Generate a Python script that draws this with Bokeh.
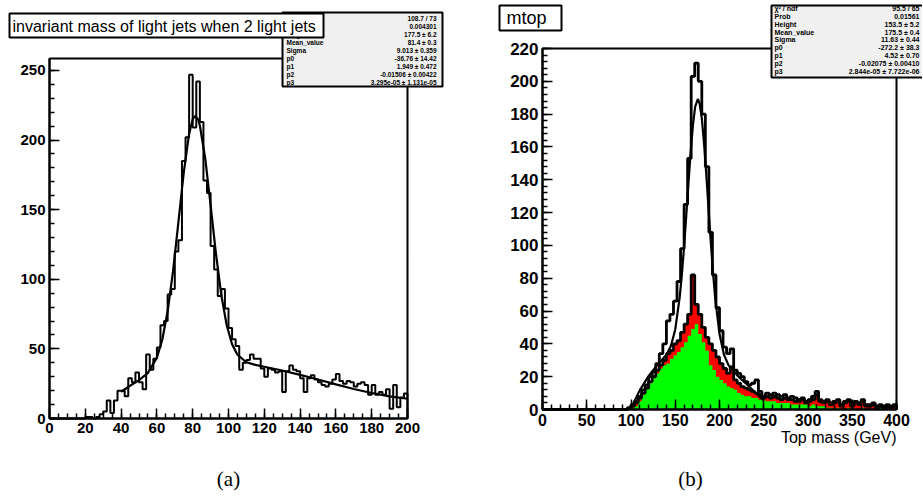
import numpy as np
from bokeh.plotting import figure
from bokeh.models import Range1d, SingleIntervalTicker, Label, BoxAnnotation, LinearAxis
from bokeh.layouts import row
from bokeh.embed import file_html
from bokeh.resources import INLINE

# ---------------- panel (a): invariant mass of light jets ----------------
a_title = "invariant mass of light jets when 2 light jets"
a_x_start = 0
a_bin_width = 2
a_counts = [
    0, 0, 0, 0, 0, 0, 0, 0, 0, 0,
    1, 1, 0, 1, 3, 5, 13, 4, 13, 20,
    20, 16, 29, 26, 33, 26, 21, 46, 35, 43,
    51, 67, 70, 89, 93, 120, 128, 185, 202, 247,
    209, 242, 213, 171, 162, 124, 107, 88, 93, 79,
    65, 57, 52, 35, 40, 42, 46, 43, 43, 36,
    30, 36, 35, 33, 34, 19, 34, 38, 35, 34,
    29, 19, 29, 31, 28, 26, 24, 23, 25, 28,
    32, 27, 25, 27, 26, 23, 25, 26, 24, 17,
    24, 17, 19, 17, 21, 7, 24, 8, 15, 18,
]
a_fit_x = [40, 45, 50, 55, 60, 63, 66, 69, 72, 75, 78, 80, 81.4, 83, 84, 87, 90,
           93, 96, 99, 102, 105, 110, 115, 120, 130, 140, 150, 160, 170, 180, 190, 200]
a_fit_y = [19.2, 23.5, 27.6, 32.8, 43.7, 56.6, 77.0, 105.7, 140.8, 176.6, 204.6, 215.0,
           217.4, 214.8, 210.5, 186.9, 153.3, 118.3, 88.5, 67.0, 53.3, 45.8, 40.4, 38.5,
           37.2, 34.5, 31.3, 28.0, 24.5, 21.2, 18.3, 15.9, 14.2]
a_stat_names = ["\u03c7\u00b2 / ndf", "Prob", "Height", "Mean_value", "Sigma", "p0", "p1", "p2", "p3"]
a_stat_values = ["108.7 / 73", "0.004301", "177.5 \u00b1 6.2", "81.4 \u00b1 0.3",
                 "9.013 \u00b1 0.359", "-36.76 \u00b1 14.42", "1.949 \u00b1 0.472",
                 "-0.01506 \u00b1 0.00422", "3.295e-05 \u00b1 1.131e-05"]
a_xaxis = (0, 200)
a_yaxis = (0, 258.6)
a_caption = "(a)"

# ---------------- panel (b): mtop ----------------
b_title = "mtop"
b_x_start = 0
b_bin_width = 4
b_total = [0] * 24 + [
    1, 3, 5, 8, 12, 15, 20, 23, 28, 34,
    40, 54, 58, 66, 78, 98, 125, 153, 203, 211,
    200, 180, 148, 108, 82, 62, 48, 38, 34, 37,
    24, 22, 20, 17, 15, 16, 18, 11, 8, 10,
    9, 10, 9, 8, 9, 7, 8, 7, 6, 7,
    5, 6, 8, 11, 6, 5, 6, 4, 5, 6,
    3, 5, 6, 3, 5, 4, 6, 3, 3, 4,
    2, 3, 2, 3, 2, 3,
]
b_middle = [0] * 24 + [
    1, 2, 4, 7, 10, 13, 17, 20, 24, 27,
    30, 34, 36, 40, 42, 47, 52, 58, 82, 64,
    58, 50, 44, 40, 36, 32, 28, 25, 22, 26,
    18, 16, 14, 13, 12, 11, 10, 9, 7, 8,
    7, 8, 7, 6, 7, 6, 6, 5, 5, 6,
    4, 5, 6, 9, 5, 4, 5, 3, 4, 5,
    2, 4, 5, 2, 4, 3, 5, 2, 2, 3,
    1, 2, 1, 2, 1, 2,
]
b_signal = [0] * 24 + [
    0, 1, 2, 5, 9, 13, 16, 19, 22, 25,
    27, 28, 31, 33, 35, 38, 41, 45, 49, 52,
    46, 41, 36, 27, 24, 20, 18, 16, 14, 13,
    12, 10, 9, 8, 8, 7, 7, 6, 6, 5,
    5, 5, 4, 4, 4, 4, 3, 3, 3, 3,
    3, 2, 3, 2, 2, 2, 1, 1, 0, 1,
    0, 0, 1, 0, 0, 0, 1, 0, 0, 0,
    0, 1, 0, 0, 0, 0,
]
b_fit_x = [100, 110, 120, 130, 140, 145, 150, 155, 157.5, 160, 162.5, 165, 167.5, 170,
           172.5, 175.5, 177.5, 180, 182.5, 185, 187.5, 190, 192.5, 195, 200, 205, 210,
           220, 230, 240, 250]
b_fit_y = [0.7, 11.8, 20.5, 27.3, 33.4, 38.6, 48.8, 68.3, 82.4, 99.4, 118.6, 138.6, 157.5,
           173.5, 184.5, 189.2, 186.6, 177.4, 162.5, 143.9, 123.4, 103.2, 84.6, 68.7, 46.0,
           33.5, 27.2, 20.8, 15.8, 10.5, 5.3]
b_stat_names = ["\u03c7\u00b2 / ndf", "Prob", "Height", "Mean_value", "Sigma", "p0", "p1", "p2", "p3"]
b_stat_values = ["95.5 / 65", "0.01561", "153.5 \u00b1 5.2", "175.5 \u00b1 0.4",
                 "11.63 \u00b1 0.44", "-272.2 \u00b1 38.3", "4.52 \u00b1 0.70",
                 "-0.02075 \u00b1 0.00410", "2.844e-05 \u00b1 7.722e-06"]
b_xlabel = "Top mass (GeV)"
b_xaxis = (0, 400)
b_yaxis = (0, 220)
b_caption = "(b)"

FONT = "Liberation Sans"
SERIF = "Liberation Serif"
TOTAL_H = 498
PAGE_ORG = 0   # Bokeh's page template places the layout at the top-left corner


class Mapper:
    """Maps page pixel positions to data coordinates for one panel."""

    def __init__(self, fx0, fx1, fy0, fy1, xaxis, yaxis):
        self.fx0, self.fx1, self.fy0, self.fy1 = fx0, fx1, fy0, fy1
        self.xaxis, self.yaxis = xaxis, yaxis

    def x(self, px):
        return (px - self.fx0) / (self.fx1 - self.fx0) * (self.xaxis[1] - self.xaxis[0]) + self.xaxis[0]

    def y(self, py):
        return (self.fy1 - py) / (self.fy1 - self.fy0) * (self.yaxis[1] - self.yaxis[0]) + self.yaxis[0]


def make_panel(m, org_x, width, xint, xminor, yint, yminor, xlabel_size, ylabel_size):
    p = figure(width=width, height=TOTAL_H,
               x_range=Range1d(m.x(org_x), m.x(org_x + width)),
               y_range=Range1d(m.y(PAGE_ORG + TOTAL_H), m.y(PAGE_ORG)),
               output_backend="svg", toolbar_location=None, title=None,
               x_axis_location=None, y_axis_location=None,
               min_border_left=0, min_border_right=0, min_border_top=0, min_border_bottom=0)
    p.xgrid.visible = False
    p.ygrid.visible = False
    p.outline_line_color = None
    p.background_fill_color = "white"
    p.border_fill_color = "white"
    xa = LinearAxis(fixed_location=m.yaxis[0], bounds=m.xaxis,
                    ticker=SingleIntervalTicker(interval=xint, num_minor_ticks=xminor))
    ya = LinearAxis(fixed_location=m.xaxis[0], bounds=m.yaxis,
                    ticker=SingleIntervalTicker(interval=yint, num_minor_ticks=yminor))
    for ax, size in ((xa, xlabel_size), (ya, ylabel_size)):
        ax.axis_line_color = "black"
        ax.axis_line_width = 2
        ax.major_tick_in = 10
        ax.major_tick_out = 0
        ax.minor_tick_in = 5
        ax.minor_tick_out = 0
        ax.major_tick_line_width = 1.5
        ax.minor_tick_line_width = 1.5
        ax.major_tick_line_color = "black"
        ax.minor_tick_line_color = "black"
        ax.major_label_text_font = FONT
        ax.major_label_text_font_style = "bold"
        ax.major_label_text_font_size = size
        ax.major_label_text_color = "black"
        ax.major_label_standoff = 4
    p.add_layout(xa, "below")
    p.add_layout(ya, "left")
    # frame box of the histogram area
    p.add_layout(BoxAnnotation(left=m.xaxis[0], right=m.xaxis[1], bottom=m.yaxis[0], top=m.yaxis[1],
                               fill_color=None, line_color="black", line_alpha=1.0, line_width=2))
    return p


def label(p, x, y, text, size, align="left", style_="normal", font=FONT):
    p.add_layout(Label(x=x, y=y, text=text, text_font=font, text_font_size=size,
                       text_font_style=style_, text_align=align, text_baseline="middle",
                       text_color="black"))


def box(p, left, right, top, bottom, fill):
    p.add_layout(BoxAnnotation(left=left, right=right, top=top, bottom=bottom,
                               fill_color=fill, fill_alpha=1.0, line_color="black",
                               line_alpha=1.0, line_width=2))


# ======================= figure (a) =======================
A_W = 461
A_ORG = PAGE_ORG
ma = Mapper(49, 407, 58, 418, a_xaxis, a_yaxis)
pa = make_panel(ma, A_ORG, A_W, 20, 4, 50, 5, "15px", "15px")

a_edges = [a_x_start + a_bin_width * i for i in range(len(a_counts) + 1)]
pa.step(x=a_edges, y=a_counts + [0], mode="after", line_color="black", line_width=2)
pa.line(x=a_fit_x, y=a_fit_y, line_color="black", line_width=2.2)

# stats box (a)
box(pa, ma.x(282), ma.x(442), ma.y(12), ma.y(86), "#f0f0f0")
for i, (n, v) in enumerate(zip(a_stat_names, a_stat_values)):
    yy = ma.y(17.5 + 8.0 * i)
    label(pa, ma.x(286), yy, n, "6.5px", "left", "bold")
    label(pa, ma.x(436), yy, v, "6.5px", "right", "bold")
# title box (a)
box(pa, ma.x(9), ma.x(323), ma.y(13), ma.y(37), "white")
label(pa, ma.x(12), ma.y(25.5), a_title, "16px")
# caption
label(pa, ma.x(228), ma.y(478), a_caption, "21px", "center", font=SERIF)

# ======================= figure (b) =======================
B_W = 461
B_ORG = PAGE_ORG + A_W
mb = Mapper(542, 896, 48, 409, b_xaxis, b_yaxis)
pb = make_panel(mb, B_ORG, B_W, 50, 5, 20, 5, "16px", "17px")

b_edges = [b_x_start + b_bin_width * i for i in range(len(b_total) + 1)]
pb.varea_step(x=b_edges, y1=[0] * len(b_edges), y2=b_middle + [0], step_mode="after",
              fill_color="#ff0000")
pb.varea_step(x=b_edges, y1=[0] * len(b_edges), y2=b_signal + [0], step_mode="after",
              fill_color="#00ff00")
pb.step(x=b_edges, y=b_middle + [0], mode="after", line_color="black", line_width=2.8)
pb.step(x=b_edges, y=b_total + [0], mode="after", line_color="black", line_width=2.8)
pb.line(x=b_fit_x, y=b_fit_y, line_color="black", line_width=2.2)

# stats box (b)
box(pb, mb.x(771), mb.x(935), mb.y(5), mb.y(77), "#f0f0f0")
for i, (n, v) in enumerate(zip(b_stat_names, b_stat_values)):
    yy = mb.y(8.0 + 7.85 * i)
    label(pb, mb.x(774), yy, n, "7px", "left", "bold")
    label(pb, mb.x(919), yy, v, "7px", "right", "bold")
# title box (b)
box(pb, mb.x(499), mb.x(561), mb.y(5), mb.y(30), "white")
label(pb, mb.x(506), mb.y(17.5), b_title, "18px")
# axis title and caption
label(pb, mb.x(896), mb.y(437), b_xlabel, "16px", "right")
label(pb, mb.x(690), mb.y(478), b_caption, "21px", "center", font=SERIF)

layout = row(pa, pb)
open("out.html", "w").write(file_html(layout, INLINE))
